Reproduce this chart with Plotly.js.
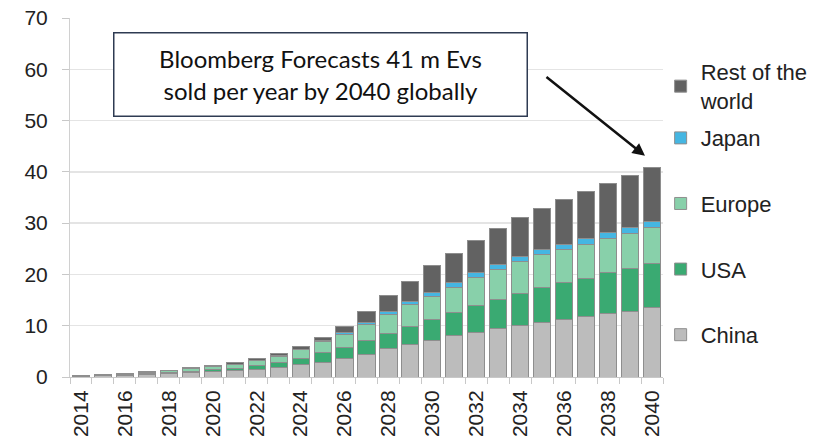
<!DOCTYPE html>
<html>
<head>
<meta charset="utf-8">
<script src="https://cdn.plot.ly/plotly-3.0.1.min.js"></script>
<style>html,body{margin:0;padding:0;background:#fff;}#chart{width:835px;height:445px;}</style>
</head>
<body>
<div id="chart"></div>
<script>
const years = ["2014","2015","2016","2017","2018","2019","2020","2021","2022","2023","2024","2025","2026","2027","2028","2029","2030","2031","2032","2033","2034","2035","2036","2037","2038","2039","2040"];
const tickLabels = years.map(y => (parseInt(y) % 2 === 0 ? y : ""));
const china  = [0.1,0.2,0.3,0.45,0.6,0.8,1.0,1.2,1.5,1.8,2.35,2.85,3.6,4.4,5.6,6.4,7.2,8.0,8.7,9.4,10.1,10.7,11.3,11.8,12.3,12.8,13.5];
const usa    = [0.1,0.1,0.15,0.2,0.25,0.35,0.45,0.45,0.7,1.05,1.35,1.9,2.1,2.8,2.9,3.5,4.1,4.5,5.3,5.7,6.2,6.7,7.1,7.5,8.0,8.4,8.6];
const europe = [0.05,0.15,0.2,0.3,0.35,0.5,0.6,0.75,0.95,1.2,1.6,2.15,2.6,3.1,3.6,4.15,4.4,5.0,5.4,5.9,6.2,6.4,6.5,6.6,6.7,6.8,7.0];
const japan  = [0.02,0.02,0.02,0.03,0.03,0.05,0.05,0.05,0.05,0.05,0.15,0.15,0.3,0.35,0.6,0.65,0.8,0.9,0.9,1.0,0.9,1.1,1.0,1.1,1.1,1.1,1.2];
const rest   = [0.03,0.03,0.03,0.02,0.07,0.1,0.2,0.3,0.4,0.5,0.55,0.65,1.3,2.05,3.1,3.9,5.2,5.7,6.4,6.9,7.7,8.0,8.8,9.2,9.7,10.2,10.6];
const seriesNames = ["China","USA","Europe","Japan","Rest of the<br>world"];
const seriesColors = ["#bcbcbc","#3aaa72","#88d0aa","#45b6e2","#626262"];
const seriesData = [china, usa, europe, japan, rest];
const annotationText = "Bloomberg Forecasts 41 m Evs<br>sold per year by 2040 globally";

const traces = seriesData.map((d, i) => ({
  type: "bar",
  x: years,
  y: d,
  name: seriesNames[i],
  legendgroup: "g" + i,
  legendrank: 10 - i,
  legend: i === 4 ? "legend2" : "legend",
  marker: {color: seriesColors[i], line: {color: "#8e8e8e", width: 1}},
  hoverinfo: "x+y+name"
}));

const legendFont = {size: 22, color: "#222"};

const layout = {
  width: 835, height: 445,
  margin: {l: 70, r: 172, t: 18, b: 68},
  barmode: "stack",
  bargap: 0.22,
  paper_bgcolor: "#ffffff",
  plot_bgcolor: "#ffffff",
  font: {family: "Liberation Sans, Arial, sans-serif", size: 21, color: "#222"},
  xaxis: {
    type: "category",
    tickvals: years,
    ticktext: tickLabels,
    tickangle: -90,
    ticks: "outside",
    tickson: "boundaries",
    ticklen: 6,
    tickcolor: "#c8c8c8",
    showline: true,
    linecolor: "#c8c8c8",
    linewidth: 1,
    showgrid: false,
    ticklabelstandoff: 4,
    tickfont: {size: 21, color: "#222"}
  },
  yaxis: {
    range: [0, 70],
    dtick: 10,
    ticks: "outside",
    ticklen: 7,
    tickcolor: "#c8c8c8",
    showline: true,
    linecolor: "#d0d0d0",
    showgrid: true,
    gridcolor: "#e4e4e4",
    gridwidth: 1.5,
    zeroline: false,
    ticklabelstandoff: 10,
    tickfont: {size: 21, color: "#222"}
  },
  legend: {
    x: 0.996, xanchor: "left",
    y: 0.724, yanchor: "top",
    traceorder: "grouped",
    tracegroupgap: 34,
    font: legendFont,
    itemwidth: 30,
    bgcolor: "rgba(0,0,0,0)"
  },
  legend2: {
    x: 0.996, xanchor: "left",
    y: 0.908, yanchor: "top",
    font: legendFont,
    itemwidth: 30,
    bgcolor: "rgba(0,0,0,0)"
  },
  annotations: [
    {
      xref: "paper", yref: "paper",
      x: 0.4216, y: 0.842,
      xanchor: "center", yanchor: "middle",
      text: annotationText,
      showarrow: false,
      font: {family: "Lato, Open Sans, sans-serif", size: 24, color: "#111"},
      bordercolor: "#2e3b52",
      borderwidth: 1.5,
      borderpad: 2,
      bgcolor: "#ffffff",
      width: 408,
      height: 78,
      align: "center"
    },
    {
      xref: "paper", yref: "paper",
      x: 0.9696, y: 0.616,
      ax: -100, ay: -80,
      text: "",
      showarrow: true,
      arrowhead: 2,
      arrowsize: 1,
      arrowwidth: 2.5,
      arrowcolor: "#111"
    }
  ]
};

Plotly.newPlot("chart", traces, layout, {displayModeBar: false, staticPlot: true});
</script>
</body>
</html>
